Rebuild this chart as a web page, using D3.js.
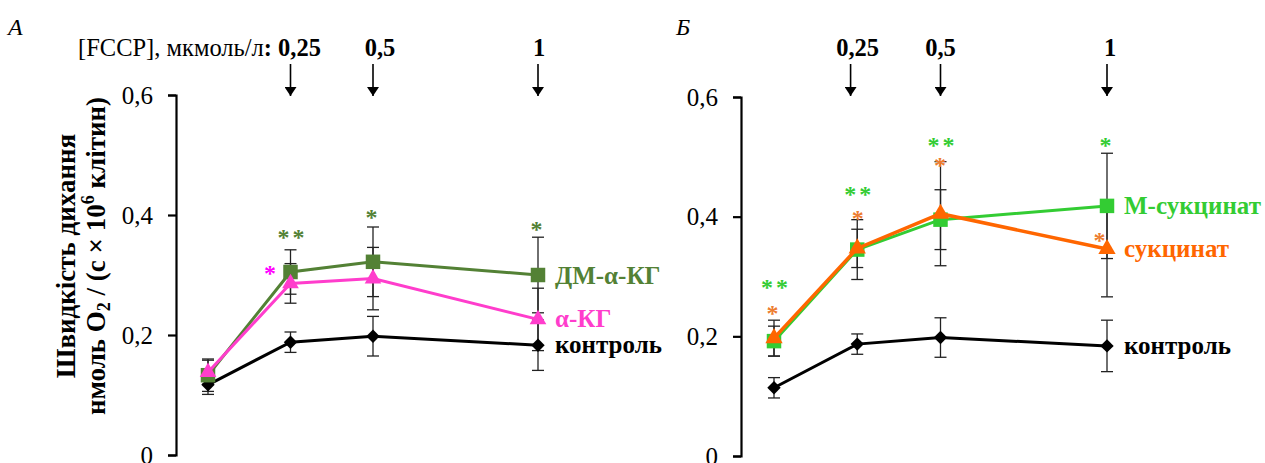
<!DOCTYPE html>
<html lang="uk">
<head>
  <meta charset="UTF-8">
  <script src="https://d3js.org/d3.v7.min.js"></script>
  <style>
    body { margin: 0; background: #fff; }
  </style>
  <script>
    // time points (index of measurement; FCCP added before 1, 2, 4)
    var steps = [0, 1, 2, 4];
    var yTicks = [0, 0.2, 0.4, 0.6];
    var fccpLabels = ['0,25', '0,5', '1'];

    // panel A
    var ctrlA = [0.117, 0.188, 0.198, 0.183];
    var ctrlAErr = [0.016, 0.017, 0.033, 0.042];
    var dmakgA = [0.133, 0.305, 0.322, 0.300];
    var dmakgAErr = [0.027, 0.037, 0.058, 0.063];
    var akgA = [0.138, 0.286, 0.294, 0.226];
    var akgAErr = [0.020, 0.033, 0.052, 0.052];

    // panel B
    var ctrlB = [0.114, 0.187, 0.198, 0.184];
    var ctrlBErr = [0.017, 0.017, 0.033, 0.043];
    var msucB = [0.192, 0.345, 0.395, 0.418];
    var msucBErr = [0.025, 0.050, 0.050, 0.088];
    var sucB = [0.197, 0.347, 0.405, 0.346];
    var sucBErr = [0.030, 0.032, 0.087, 0.080];

    var FONT = 'Liberation Serif';

    function makeChart() {
      var svg = d3.select('#chart').attr('font-family', FONT);
      var fmt = d => String(d).replace('.', ',');

      svg.append('defs').append('marker')
        .attr('id', 'arr').attr('viewBox', '0 0 10 10').attr('refX', 10).attr('refY', 5)
        .attr('markerWidth', 9).attr('markerHeight', 12).attr('markerUnits', 'userSpaceOnUse')
        .attr('orient', 'auto').attr('preserveAspectRatio', 'none')
        .append('path').attr('d', 'M0,0L10,5L0,10Z').attr('fill', '#000');

      // y axis title
      var yt = svg.append('g').attr('transform', 'translate(0,256) rotate(-90)')
        .attr('font-weight', 'bold').attr('font-size', 27).attr('text-anchor', 'middle');
      yt.append('text').attr('x', 0).attr('y', 75).text('Швидкість дихання');
      var t2 = yt.append('text').attr('x', 0).attr('y', 105);
      t2.append('tspan').text('нмоль O');
      t2.append('tspan').attr('font-size', 18).attr('dy', 5).text('2');
      t2.append('tspan').attr('dy', -5).text(' / (с × 10');
      t2.append('tspan').attr('font-size', 18).attr('dy', -11).text('6');
      t2.append('tspan').attr('dy', 11).text(' клітин)');

      function panel(opt) {
        var x = d3.scaleLinear().domain([0, 4]).range(opt.xr);
        var y = d3.scaleLinear().domain([0, 0.6]).range(opt.yr);
        var g = svg.append('g');

        g.append('g').attr('transform', 'translate(' + opt.ax + ',0)')
          .call(d3.axisLeft(y).tickValues(yTicks).tickFormat(fmt).tickSize(8).tickPadding(15))
          .attr('font-family', FONT).attr('font-size', 25)
          .call(a => a.selectAll('path,line').attr('stroke', '#000').attr('stroke-width', 2.2))
          .call(a => a.selectAll('text').attr('fill', '#000'));

        svg.append('text').attr('x', opt.letterX).attr('y', 35)
          .attr('font-style', 'italic').attr('font-size', 24).text(opt.letter);

        // FCCP arrows
        opt.arrows.forEach(function (s, i) {
          g.append('line').attr('x1', x(s)).attr('x2', x(s)).attr('y1', 64).attr('y2', 96)
            .attr('stroke', '#000').attr('stroke-width', 1.6).attr('marker-end', 'url(#arr)');
          if (i > 0 || opt.first)
            g.append('text').attr('x', x(s) + opt.labDx[i]).attr('y', 56).attr('text-anchor', 'middle')
              .attr('font-weight', 'bold').attr('font-size', 24.5).text(fccpLabels[i]);
        });
        if (!opt.first) {
          var tt = g.append('text').attr('x', 78).attr('y', 56).attr('font-size', 24.5);
          tt.append('tspan').text('[FCCP], мкмоль/л');
          tt.append('tspan').attr('font-weight', 'bold').text(': ' + fccpLabels[0]);
        }

        // error bars
        opt.series.forEach(function (s) {
          s.v.forEach(function (v, i) {
            var xx = x(steps[i]), y0 = y(v - s.e[i]), y1 = y(v + s.e[i]);
            g.append('line').attr('x1', xx).attr('x2', xx).attr('y1', y0).attr('y2', y1)
              .attr('stroke', '#222').attr('stroke-width', 1.3);
            [y0, y1].forEach(function (yy) {
              g.append('line').attr('x1', xx - 6).attr('x2', xx + 6).attr('y1', yy).attr('y2', yy)
                .attr('stroke', '#222').attr('stroke-width', 1.3);
            });
          });
        });

        // lines + markers
        opt.series.forEach(function (s) {
          var line = d3.line().x((d, i) => x(steps[i])).y(d => y(d));
          g.append('path').datum(s.v).attr('d', line).attr('fill', 'none')
            .attr('stroke', s.color).attr('stroke-width', s.w);
          var sym = d3.symbol().type(s.sym).size(s.size);
          g.selectAll(null).data(s.v).enter().append('path')
            .attr('d', sym).attr('fill', s.color)
            .attr('transform', (d, i) => 'translate(' + x(steps[i]) + ',' + y(d) + ')' + (s.rot ? ' rotate(45)' : ''));
          g.append('text').attr('x', x(4) + 17).attr('y', y(s.v[3]) + s.labDy)
            .attr('font-weight', 'bold').attr('font-size', 25).attr('fill', s.color).text(s.label);
        });

        // significance marks
        opt.stars.forEach(function (st) {
          g.append('text').attr('x', x(steps[st[0]]) + st[3]).attr('y', st[4] + 13)
            .attr('text-anchor', 'middle').attr('font-weight', 'bold').attr('font-size', 24)
            .attr('letter-spacing', 3).attr('fill', st[2]).text(st[1]);
        });
      }

      panel({
        letter: 'A', letterX: 8, xr: [208, 538], yr: [455, 95], ax: 176,
        arrows: [1, 2, 4], labDx: [10, 7, 1], first: false,
        series: [
          { v: ctrlA, e: ctrlAErr, color: '#000', w: 3, sym: d3.symbolSquare, size: 90, rot: true, label: 'контроль', labDy: 8 },
          { v: dmakgA, e: dmakgAErr, color: '#538135', w: 3, sym: d3.symbolSquare, size: 210, label: 'ДМ-α-КГ', labDy: 9 },
          { v: akgA, e: akgAErr, color: '#ff3dcc', w: 3, sym: d3.symbolTriangle, size: 120, label: 'α-КГ', labDy: 8 }
        ],
        stars: [
          [1, '**', '#538135', 2, 232], [1, '*', '#ff00ff', -19, 268],
          [2, '*', '#538135', 0, 212], [3, '*', '#538135', 0, 224]
        ]
      });

      panel({
        letter: 'Б', letterX: 676, xr: [774, 1107], yr: [456, 97], ax: 741,
        arrows: [0.92, 2, 4], labDx: [7, 0, 3], first: true,
        series: [
          { v: ctrlB, e: ctrlBErr, color: '#000', w: 3, sym: d3.symbolSquare, size: 90, rot: true, label: 'контроль', labDy: 8 },
          { v: msucB, e: msucBErr, color: '#33cc33', w: 3, sym: d3.symbolSquare, size: 210, label: 'М-сукцинат', labDy: 8 },
          { v: sucB, e: sucBErr, color: '#ff6600', w: 3.5, sym: d3.symbolTriangle, size: 130, label: 'сукцинат', labDy: 8 }
        ],
        stars: [
          [0, '**', '#33cc33', 2, 282], [0, '*', '#ed7d31', 0, 308],
          [1, '**', '#33cc33', 2, 189], [1, '*', '#ed7d31', 2, 213],
          [2, '**', '#33cc33', 2, 140], [2, '*', '#ed7d31', 1, 160],
          [3, '*', '#33cc33', 0, 140], [3, '*', '#ed7d31', -6, 235]
        ]
      });
    }
  </script>
  <title>FCCP</title>
</head>
<body onload="makeChart()">
  <svg id="chart" width="1265" height="463"></svg>
</body>
</html>
